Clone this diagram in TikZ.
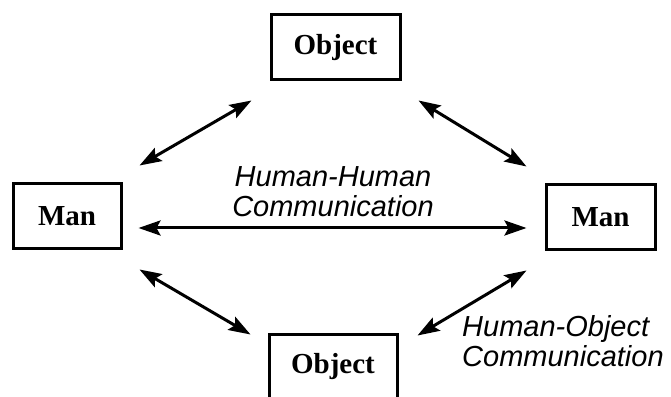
\documentclass[tikz,border=0pt]{standalone}
\usepackage{fontspec}
\setmainfont{Liberation Serif}
\setsansfont{Liberation Sans}
\usetikzlibrary{arrows.meta}
\begin{document}
\begin{tikzpicture}[x=1pt,y=1pt,line cap=round,
  box/.style={draw,line width=3pt,minimum width=#1,minimum height=65pt,
    inner sep=0pt,font=\fontsize{29}{29}\selectfont\bfseries},
  link/.style={line width=3pt,
    {Stealth[length=22pt,width=15pt,inset=4pt]}-{Stealth[length=22pt,width=15pt,inset=4pt]}},
  note/.style={font=\fontsize{29}{30}\selectfont\sffamily\itshape,inner sep=0pt}]
\useasboundingbox (0,0) rectangle (671,396);
% boxes
\node[box=129pt] (objtop) at (335.5,348.5) {Object};
\node[box=108pt] (manl) at (67,179.5) {Man};
\node[box=109pt] (manr) at (600.5,178.5) {Man};
\node[box=128pt] (objbot) at (333,29.5) {Object};
% labels
\node[note,align=center] (hh) at (333,204) {Human-Human\\Communication};
\node[note,align=left,anchor=west] (ho) at (462,55) {Human-Object\\Communication};
% links
\draw[link] ([shift={(16pt,-11.5pt)}]manl.east) -- ([shift={(-18pt,-10.5pt)}]manr.west);
\draw[link] ([shift={(17pt,17pt)}]manl.north east) -- ([shift={(-18pt,-19pt)}]objtop.south west);
\draw[link] ([shift={(17pt,-19pt)}]objtop.south east) -- ([shift={(-18pt,17pt)}]manr.north west);
\draw[link] ([shift={(17pt,-19pt)}]manl.south east) -- ([shift={(-17pt,-2pt)}]objbot.north west);
\draw[link] ([shift={(19pt,-3pt)}]objbot.north east) -- ([shift={(-18pt,-19pt)}]manr.south west);
\end{tikzpicture}
\end{document}
